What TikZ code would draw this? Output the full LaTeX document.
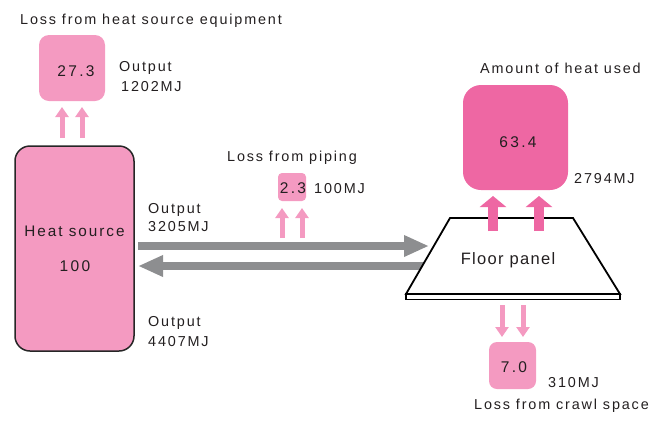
\documentclass[tikz,border=0pt]{standalone}
\usepackage{fontspec}
\setmainfont[LetterSpace=12.8]{Liberation Sans}
\newfontfamily\numfont[LetterSpace=15]{Liberation Sans}
\newfontfamily\floorfont[LetterSpace=8]{Liberation Sans}
\usetikzlibrary{arrows.meta}
\definecolor{lpink}{RGB}{244,154,193}
\definecolor{dpink}{RGB}{238,103,163}
\definecolor{agray}{RGB}{141,142,144}
\definecolor{txt}{RGB}{35,31,32}
\begin{document}
\begin{tikzpicture}[x=1pt,y=-1pt,
  lbl/.style={inner sep=0pt, text=txt, font=\fontsize{14.4}{16}\selectfont},
  num/.style={inner sep=0pt, text=txt, font=\numfont\fontsize{15.5}{17}\selectfont},
  lossbox/.style={fill=lpink, inner sep=0pt, outer sep=0pt},
  thinup/.style={draw=lpink, line width=5pt, -{Triangle[width=13pt,length=10pt]}},
  thickup/.style={draw=dpink, line width=10pt, -{Triangle[width=26pt,length=11pt]}},
  pipe/.style={draw=agray, line width=8pt, -{Triangle[width=20pt,length=25pt]}},
]
\useasboundingbox (0,0) rectangle (660,421);

% Heat source
\node[draw=black!85, line width=1.5pt, fill=lpink, rounded corners=15pt, minimum width=119pt, minimum height=205pt, inner sep=0pt] (hs) at (74.5,248.5) {};
\node[lbl, font=\fontsize{15.3}{17}\selectfont, anchor=base] (hst) at (74.5,236) {Heat source};
\node[num, anchor=base] (hsn) at (75,271) {100};

% Loss from heat source equipment
\node[lbl, anchor=base west] (t1) at (20,24) {Loss from heat source equipment};
\node[lossbox, rounded corners=10pt, minimum width=66pt, minimum height=66pt] (b1) at (72,68) {};
\node[num, anchor=base] (b1n) at (76,76) {27.3};
\node[lbl, anchor=base west] (o1) at (119,71) {Output};
\node[lbl, anchor=base west] (o1v) at (121,91) {1202MJ};
\coordinate (u1a) at (62,138); \coordinate (u1b) at (62,107);
\coordinate (u2a) at (82,138); \coordinate (u2b) at (82,107);
\draw[thinup] (u1a) -- (u1b);
\draw[thinup] (u2a) -- (u2b);

% Piping
\node[lbl, anchor=base west] (t2) at (227,161) {Loss from piping};
\node[lossbox, rounded corners=4pt, minimum width=28pt, minimum height=28pt] (b2) at (292,187) {};
\node[num, anchor=base] (b2n) at (293,193) {2.3};
\node[lbl, anchor=base west] (b2v) at (314,193) {100MJ};
\coordinate (p1a) at (282,238); \coordinate (p1b) at (282,208);
\coordinate (p2a) at (302,238); \coordinate (p2b) at (302,208);
\draw[thinup] (p1a) -- (p1b);
\draw[thinup] (p2a) -- (p2b);

% Outputs
\node[lbl, anchor=base west] (o2) at (148,213) {Output};
\node[lbl, anchor=base west] (o2v) at (148,231) {3205MJ};
\node[lbl, anchor=base west] (o3) at (148,326) {Output};
\node[lbl, anchor=base west] (o3v) at (148,346) {4407MJ};

% Pipes
\coordinate (g1a) at (138,246); \coordinate (g1b) at (429,246);
\coordinate (g2a) at (428,266); \coordinate (g2b) at (138,266);
\draw[pipe] (g1a) -- (g1b);
\draw[pipe] (g2a) -- (g2b);

% Floor panel
\coordinate (ftl) at (450,218); \coordinate (ftr) at (573,218);
\coordinate (fbr) at (620,294); \coordinate (fbl) at (406,294);
\draw[black, line width=1.3pt, fill=white] (406,294) rectangle (620,299.5);
\draw[black, line width=1.8pt, fill=white, line join=miter] (ftl) -- (ftr) -- (fbr) -- (fbl) -- cycle;
\node[inner sep=0pt, text=txt, font=\floorfont\fontsize{16.5}{18}\selectfont, anchor=base] (fp) at (508,264) {Floor panel};

% Amount of heat used
\node[lbl, anchor=base west] (t3) at (480,73) {Amount of heat used};
\node[lossbox, fill=dpink, rounded corners=18pt, minimum width=105pt, minimum height=105pt] (b3) at (515.5,137.5) {};
\node[num, anchor=base] (b3n) at (518,147) {63.4};
\node[lbl, anchor=base west] (b3v) at (574,183) {2794MJ};
\coordinate (d1a) at (493,231); \coordinate (d1b) at (493,196);
\coordinate (d2a) at (539,231); \coordinate (d2b) at (539,196);
\draw[thickup] (d1a) -- (d1b);
\draw[thickup] (d2a) -- (d2b);

% Crawl space
\coordinate (c1a) at (502,305); \coordinate (c1b) at (502,337);
\coordinate (c2a) at (523,305); \coordinate (c2b) at (523,337);
\draw[thinup] (c1a) -- (c1b);
\draw[thinup] (c2a) -- (c2b);
\node[lossbox, rounded corners=8pt, minimum width=47pt, minimum height=47pt] (b4) at (512.5,365.5) {};
\node[num, anchor=base] (b4n) at (514,372) {7.0};
\node[lbl, anchor=base west] (b4v) at (548,387) {310MJ};
\node[lbl, anchor=base west] (t4) at (474,409) {Loss from crawl space};
\end{tikzpicture}
\end{document}
